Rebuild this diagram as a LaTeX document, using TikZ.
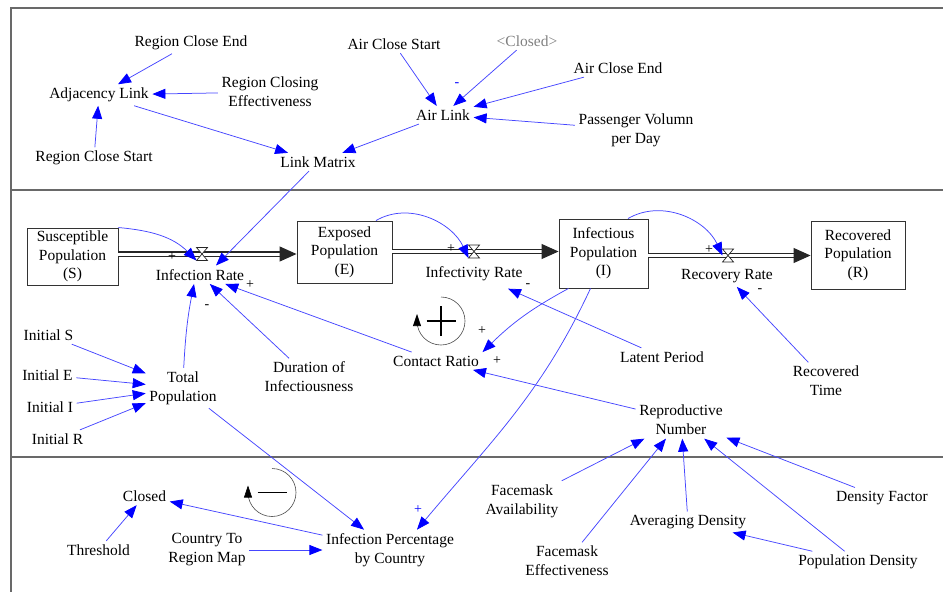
\documentclass[tikz,border=0pt]{standalone}
\usepackage{fontspec}
\setmainfont{Liberation Serif}
\usetikzlibrary{arrows.meta,positioning,calc}
\definecolor{linkblue}{RGB}{70,70,255}
\definecolor{sectorgray}{RGB}{105,105,105}

\begin{document}
\begin{tikzpicture}[
  x=1pt,y=1pt,
  every node/.style={font=\fontsize{15.5}{19}\selectfont},
  var/.style={align=center,inner sep=3.5pt},
  stock/.style={rectangle,draw=black!80,line width=0.9pt,align=center,inner sep=2pt,font=\fontsize{15.5}{18.5}\selectfont},
  valve/.style={minimum width=11pt,minimum height=13pt,inner sep=0pt,outer sep=0pt},
  hourglass/.style={draw=black!85,fill=white,line width=0.7pt},
  link/.style={draw=linkblue,line width=0.75pt,-{Triangle[length=13pt,width=10pt,color=blue]}},
  pipe/.style={draw=black!85,line width=1.1pt,double=white,double distance=3pt,-{Triangle[length=17pt,width=15pt]}},
  polarity/.style={inner sep=0pt,font=\fontsize{14}{14}\selectfont},
  sector/.style={draw=sectorgray,line width=1.4pt},
  loopsym/.style={draw=black!70,line width=0.6pt,-{Triangle[length=12pt,width=8pt,color=black]}}
]
\useasboundingbox (0,0) rectangle (943,-592);

% sectors
\draw[sector] (943,-8) -- (11,-8) -- (11,-592);
\draw[sector] (11,-190) -- (943,-190);
\draw[sector] (11,-457) -- (943,-457);

% air and region closing
\node[var] (RCE) at (191,-43) {Region Close End};
\node[var] (AL) at (99,-95) {Adjacency Link};
\node[var] (RCEff) at (270,-92) {Region Closing\\Effectiveness};
\node[var] (RCS) at (94,-158) {Region Close Start};
\node[var] (LM) at (318,-162) {Link Matrix};
\node[var] (ACS) at (394,-44) {Air Close Start};
\node[var,text=gray] (ClosedG) at (527,-41) {<Closed>};
\node[var] (AirL) at (443,-115) {Air Link};
\node[var] (ACE) at (618,-68) {Air Close End};
\node[var] (PVD) at (636,-130) {Passenger Volumn\\per Day};

% SEIR stocks and flows
\node[stock,minimum width=91pt,minimum height=57pt] (S) at (72.5,-256.5) {Susceptible\\Population\\(S)};
\node[stock,minimum width=95pt,minimum height=62pt] (E) at (344.5,-252) {Exposed\\Population\\(E)};
\node[stock,minimum width=89pt,minimum height=69pt] (I) at (603.5,-253.5) {Infectious\\Population\\(I)};
\node[stock,minimum width=94pt,minimum height=68pt] (R) at (858,-255) {Recovered\\Population\\(R)};

\node[valve] (vSE) at (202,-254) {};
\node[valve] (vEI) at (474,-251.5) {};
\node[valve] (vIR) at (728,-255.5) {};
\draw[pipe] (S.east |- vSE) -- (E.west |- vSE);
\draw[pipe] (E.east |- vEI) -- (I.west |- vEI);
\draw[pipe] (I.east |- vIR) -- (R.west |- vIR);
\foreach \v in {vSE,vEI,vIR}
  \draw[hourglass] (\v.north west) -- (\v.north east) -- (\v.south west) -- (\v.south east) -- cycle;

\node[var,below=5pt of vSE,xshift=-2pt] (IR) {Infection Rate};
\node[var,below=5pt of vEI] (IvR) {Infectivity Rate};
\node[var,below=4pt of vIR,xshift=-1pt] (RR) {Recovery Rate};

\node[var] (IS) at (48.5,-335) {Initial S};
\node[var] (IE) at (47.5,-375) {Initial E};
\node[var] (II) at (50,-407) {Initial I};
\node[var] (IRi) at (57.5,-439) {Initial R};
\node[var] (TP) at (183,-388) {Total\\Population};
\node[var] (DI) at (309,-377) {Duration of\\Infectiousness};
\node[var] (CR) at (436,-361) {Contact Ratio};
\node[var] (LP) at (662,-357) {Latent Period};
\node[var] (RT) at (826,-381) {Recovered\\Time};
\node[var] (RN) at (681,-420) {Reproductive\\Number};

% closing and density
\node[var] (Cl) at (144.5,-496) {Closed};
\node[var] (Th) at (98.5,-550) {Threshold};
\node[var] (CTRM) at (207,-550) {Country To\\Region Map};
\node[var] (IPC) at (390,-550) {Infection Percentage\\by Country};
\node[var] (FA) at (522,-501) {Facemask\\Availability};
\node[var] (FE) at (567,-561) {Facemask\\Effectiveness};
\node[var] (AD) at (688,-522) {Averaging Density};
\node[var] (DF) at (882,-498) {Density Factor};
\node[var] (PD) at (858,-562) {Population Density};

% links
\draw[link] (RCE) -- (AL);
\draw[link] (RCEff) -- (AL);
\draw[link] (RCS) -- (AL);
\draw[link] (AL) -- (LM);
\draw[link] (ACS) -- (AirL);
\draw[link] (ClosedG) -- (AirL);
\draw[link] (ACE) -- (AirL);
\draw[link] (PVD) -- (AirL);
\draw[link] (AirL) -- (LM);
\draw[link] (LM) -- ([xshift=16pt]IR.north);

\draw[link] (S.north east) to[out=-5,in=135] (vSE.south west);
\draw[link] (E.45) to[out=30,in=115] (vEI.south west);
\draw[link] (I.55) to[out=30,in=115] (vIR.west);
\draw[link] (TP) to[bend left=4] ([xshift=-6pt]IR.south);
\draw[link] (DI) -- (IR);
\draw[link] (CR) -- (IR);
\draw[link] ([xshift=10pt]I.south west) to[bend right=8] (CR.north east);
\draw[link] (LP) -- ([xshift=34pt,yshift=-4pt]IvR.south);
\draw[link] (RT) -- (RR);
\draw[link] (RN) -- (CR);
\draw[link] ([xshift=-13pt]I.south) to[out=-115,in=50] ([xshift=27pt]IPC.north);
\draw[link] (IS) -- (TP);
\draw[link] (IE) -- (TP);
\draw[link] (II) -- (TP);
\draw[link] (IRi) -- (TP);
\draw[link] (TP) -- (IPC);

\draw[link] (Th) -- (Cl);
\draw[link] (IPC) -- (Cl);
\draw[link] (CTRM) -- (IPC);
\draw[link] (FA) -- (RN);
\draw[link] (FE) -- (RN);
\draw[link] (AD) -- (RN);
\draw[link] (PD) -- (RN);
\draw[link] (DF) -- (RN);
\draw[link] (PD) -- (AD);

% polarities
\node[polarity,text=blue] (p1) at (457,-85) {-};
\node[polarity] (p2) at (172,-257) {+};
\node[polarity] (p3) at (250,-285) {+};
\node[polarity] (p4) at (207,-307) {-};
\node[polarity] (p5) at (451,-249) {+};
\node[polarity] (p6) at (528,-286) {-};
\node[polarity] (p7) at (482,-331) {+};
\node[polarity] (p8) at (497,-361) {+};
\node[polarity] (p9) at (709,-250) {+};
\node[polarity] (p10) at (760,-291) {-};
\node[polarity,text=blue] (p11) at (418,-510) {+};

% loops
\coordinate (loopR) at (441,-321);
\draw[loopsym] ([yshift=24pt]loopR) arc[start angle=90,end angle=-180,radius=24] -- ++(0,7);
\draw[line width=1.8pt] ([xshift=-14.5pt]loopR) -- ([xshift=14.5pt]loopR)
  ([yshift=-15pt]loopR) -- ([yshift=15pt]loopR);
\coordinate (loopB) at (272,-492.5);
\draw[loopsym] ([yshift=24pt]loopB) arc[start angle=90,end angle=-180,radius=24] -- ++(0,7);
\draw[line width=1.8pt] ([xshift=-14.5pt]loopB) -- ([xshift=14.5pt]loopB);
\end{tikzpicture}
\end{document}
